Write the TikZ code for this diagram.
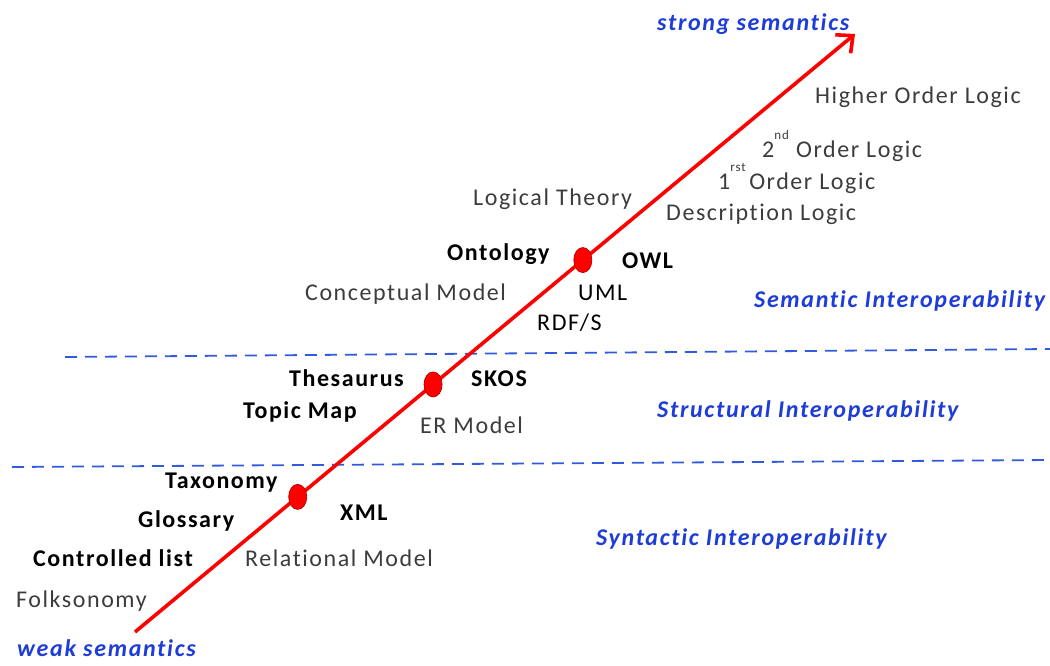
\documentclass[tikz,border=0pt]{standalone}
\usepackage{fontspec}
\setmainfont{Carlito}[LetterSpace=6.5, RawFeature=-liga]
\newfontfamily\levelfont{Carlito}[LetterSpace=7, RawFeature=-liga]
\usetikzlibrary{arrows.meta,shapes.geometric}
\definecolor{semblue}{RGB}{30,60,215}
\definecolor{dashblue}{RGB}{50,90,220}
\definecolor{softgray}{RGB}{60,60,60}
\tikzset{
  lbl/.style={inner sep=0pt, anchor=mid west, font=\fontsize{24}{28}\selectfont},
  plain/.style={lbl, text=softgray},
  strongtxt/.style={lbl, text=black, font=\fontsize{24}{28}\selectfont\bfseries},
  midtxt/.style={lbl, text=black},
  level/.style={lbl, text=semblue, font=\fontsize{24}{28}\levelfont\bfseries\itshape},
  axis/.style={draw=red, line width=3.6pt, -{Straight Barb[length=13pt,width=24pt,line width=3.6pt]}},
  stop/.style={ellipse, minimum width=18pt, minimum height=25pt, inner sep=0pt,
               fill=red, draw=red!75!black, line width=0.8pt},
  border/.style={draw=dashblue, line width=1.8pt, dash pattern=on 12pt off 8pt}
}
\begin{document}
\begin{tikzpicture}[x=1pt,y=-1pt]
\useasboundingbox (0,0) rectangle (1050,665);

% interoperability borders
\coordinate (b1l) at (65,357);  \coordinate (b1r) at (1050,349);
\coordinate (b2l) at (12,467);  \coordinate (b2r) at (1050,460);
\draw[border] (b1l) -- (b1r);
\draw[border] (b2l) -- (b2r);

% semantic axis with its three stops
\coordinate (weak) at (135,632);
\coordinate (strong) at (855,34);
\draw[axis] (weak) -- (strong)
  node[stop, pos=0.226] (s1) {}
  node[stop, pos=0.414] (s2) {}
  node[stop, pos=0.622] (s3) {};

% axis ends
\node[level] (lw) at (17,654) {weak semantics};
\node[level] (ls) at (657,28) {strong semantics};

% interoperability levels
\node[level] (semi) at (754,305) {Semantic Interoperability};
\node[level] (stri) at (657,415) {Structural Interoperability};
\node[level] (synt) at (596,543) {Syntactic Interoperability};

% logic
\node[plain] (hol) at (815,101) {Higher Order Logic};
\node[plain] (sol) at (762,155) {2\raisebox{0.75em}{\fontsize{13}{13}\selectfont nd}\hspace{0.3em}Order Logic};
\node[plain] (fol) at (718,187) {1\raisebox{0.75em}{\fontsize{13}{13}\selectfont rst}\hspace{0.15em}Order Logic};
\node[plain] (dl) at (666,218) {Description Logic};
\node[plain] (lt) at (473,203) {Logical Theory};

% ontology level
\node[strongtxt] (onto) at (447,258) {Ontology};
\node[strongtxt] (owl) at (622,266) {OWL};
\node[plain] (cm) at (305,298) {Conceptual Model};
\node[midtxt] (uml) at (578,298) {UML};
\node[midtxt] (rdfs) at (537,328) {RDF/S};

% thesaurus level
\node[strongtxt] (thes) at (289,384) {Thesaurus};
\node[strongtxt] (skos) at (471,384) {SKOS};
\node[strongtxt] (tm) at (243,416) {Topic Map};
\node[plain] (er) at (420,431) {ER Model};

% taxonomy level
\node[strongtxt] (tax) at (165,486) {Taxonomy};
\node[strongtxt] (xml) at (340,518) {XML};
\node[strongtxt] (glos) at (138,525) {Glossary};
\node[strongtxt] (cl) at (33,564) {Controlled list};
\node[plain] (rm) at (245,564) {Relational Model};
\node[plain] (folk) at (16,605) {Folksonomy};
\end{tikzpicture}
\end{document}
